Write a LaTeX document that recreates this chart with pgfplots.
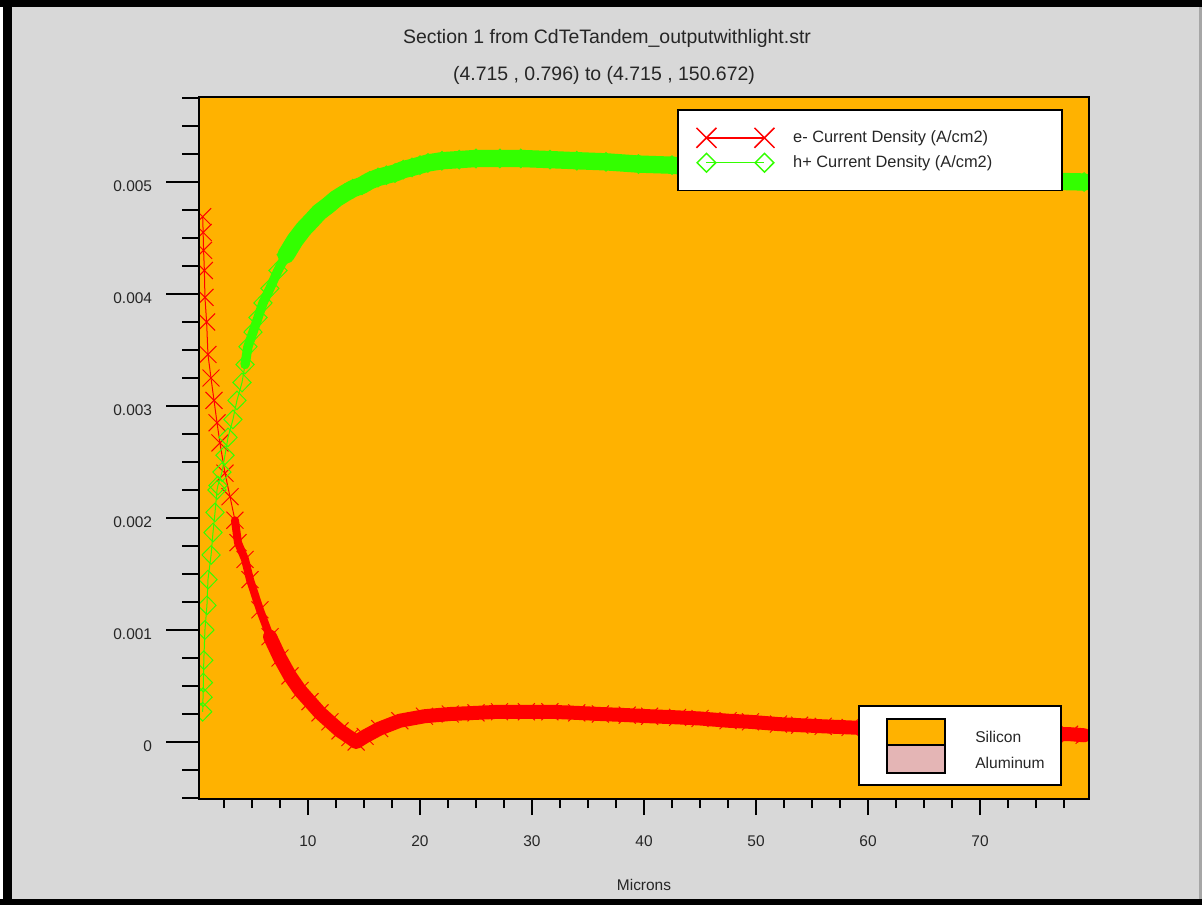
\documentclass[border=0pt]{standalone}
\usepackage{pgfplots}
\pgfplotsset{compat=1.18}
\usepackage{pgfplotstable}
\usepackage{fontspec}
\setmainfont{Liberation Sans}
\definecolor{bgray}{RGB}{216,216,216}
\definecolor{plotorange}{RGB}{255,178,0}
\definecolor{hgreen}{RGB}{51,255,0}
\definecolor{ered}{RGB}{255,0,0}
\definecolor{alpink}{RGB}{228,181,181}

\pgfplotstableread{
x y
0.60 0.00469
0.64 0.00455
0.68 0.00439
0.75 0.00421
0.80 0.00397
0.95 0.00375
1.07 0.00346
1.34 0.00325
1.61 0.00305
1.88 0.00285
2.14 0.00267
2.59 0.00240
3.04 0.00219
3.48 0.00198
3.75 0.00178
4.38 0.00163
4.82 0.00145
5.71 0.00118
6.61 0.00094
7.50 0.00075
8.39 0.00059
9.29 0.00046
10.18 0.00036
11.07 0.00026
11.96 0.00018
12.86 0.00010
13.75 0.00004
14.30 0.00000
15.10 0.00005
16.40 0.00012
18.20 0.00019
20.40 0.00023
22.70 0.00025
25.00 0.00026
27.10 0.00027
29.50 0.00027
31.60 0.00027
34.00 0.00026
36.10 0.00025
38.50 0.00024
40.50 0.00023
43.00 0.00022
45.00 0.00021
47.50 0.00019
49.50 0.00018
52.00 0.00016
53.90 0.00015
56.00 0.00014
58.40 0.00013
60.50 0.00012
62.90 0.00012
65.00 0.00011
67.30 0.00010
69.50 0.00009
71.80 0.00009
74.00 0.00008
76.25 0.00007
78.00 0.00007
79.30 0.00006
}\redtab

\pgfplotstableread{
x y
0.60 0.00027
0.63 0.00040
0.66 0.00053
0.70 0.00073
0.80 0.00100
0.98 0.00122
1.07 0.00145
1.35 0.00167
1.52 0.00187
1.70 0.00205
1.88 0.00225
1.96 0.00229
2.32 0.00241
2.59 0.00256
2.86 0.00272
3.30 0.00288
3.66 0.00305
4.11 0.00321
4.38 0.00337
4.64 0.00353
5.09 0.00366
5.54 0.00379
5.98 0.00392
6.60 0.00405
7.32 0.00421
8.05 0.00435
8.84 0.00448
9.60 0.00458
10.36 0.00466
11.00 0.00473
11.79 0.00479
12.50 0.00485
13.30 0.00490
14.00 0.00494
14.82 0.00497
15.50 0.00501
16.25 0.00504
17.00 0.00506
17.77 0.00508
18.50 0.00511
19.29 0.00513
20.00 0.00515
20.71 0.00517
21.96 0.00519
23.50 0.00520
25.00 0.00521
27.14 0.00521
29.00 0.00521
31.61 0.00520
34.00 0.00519
36.61 0.00518
39.50 0.00516
42.50 0.00515
45.00 0.00513
50.00 0.00510
55.00 0.00508
60.00 0.00506
65.00 0.00504
70.00 0.00502
75.00 0.00501
79.30 0.00500
}\greentab

\begin{document}
\begin{tikzpicture}
\path[use as bounding box] (0,0) rectangle (901.5pt,-678.75pt);
\begin{scope}[x=0.75pt,y=-0.75pt]
\fill[bgray] (0,0) rectangle (1202,905);
\fill[black] (0,0) rectangle (1202,7);
\fill[white] (0,7) rectangle (3,905);
\fill[black] (3,0) rectangle (12,905);
\fill[black] (0,899) rectangle (1202,905);
\fill[black!35] (1199,7) rectangle (1202,899);
\coordinate (ll) at (199,799);
\node[font=\fontsize{14.6}{17}\selectfont, text=black!85] at (607,38) {Section 1 from CdTeTandem\_outputwithlight.str};
\node[font=\fontsize{14.6}{17}\selectfont, text=black!85] at (604,75) {(4.715 , 0.796) to (4.715 , 150.672)};
\end{scope}

\begin{axis}[
  at={(ll)}, anchor=south west,
  scale only axis, width=667.5pt, height=526.5pt,
  xmin=0.27, xmax=79.73, ymin=-0.000509, ymax=0.005759,
  axis background/.style={fill=plotorange},
  axis line style={black, line width=1.2pt},
  axis on top,
  clip marker paths=true,
  xtick=\empty,
  ytick={0,0.001,0.002,0.003,0.004,0.005},
  yticklabels={0,0.001,0.002,0.003,0.004,0.005},
  minor ytick={-0.0005,-0.00025,0.00025,0.0005,0.00075,0.00125,0.0015,0.00175,0.00225,0.0025,0.00275,0.00325,0.0035,0.00375,0.00425,0.0045,0.00475,0.00525,0.0055,0.00575},
  ytick pos=left, tick align=outside,
  major tick length=24.5pt, minor tick length=12.75pt,
  major tick style={line width=2.2pt, black},
  minor tick style={line width=1.4pt, black},
  yticklabel style={font=\fontsize{11.6}{13}\selectfont, text=black!85, inner sep=0pt, anchor=east, yshift=-3pt},
  yticklabel shift=10.5pt,
  scaled y ticks=false,
  legend style={at={(axis description cs:0.5371,0.9829)}, anchor=north west,
    draw=black, line width=1.2pt, fill=white,
    inner xsep=14pt, inner ysep=13.5pt, row sep=4pt,
    font=\fontsize{12.3}{14}\selectfont, text=black!85,
    /tikz/every odd column/.append style={column sep=12pt}},
  legend cell align=left,
  legend image code/.code={\draw[#1, line width=1.1pt] plot coordinates {(0pt,0pt) (43.5pt,0pt)};},
]
\addplot[ered, line width=6pt, line join=round, line cap=round, forget plot, restrict x to domain=3.4:80] table {\redtab};
\addplot[ered, line width=10.5pt, line join=round, line cap=round, forget plot, restrict x to domain=6.5:80] table {\redtab};
\addplot[hgreen, line width=7pt, line join=round, line cap=round, forget plot, restrict x to domain=4.3:80] table {\greentab};
\addplot[hgreen, line width=13pt, line join=round, line cap=round, forget plot, restrict x to domain=8:80] table {\greentab};
\addplot[ered, line width=0.75pt, mark=x, mark size=9pt, legend image post style={mark size=10.6pt, draw=ered}] table {\redtab};
\addlegendentry{\makebox[185.5pt][l]{e- Current Density (A/cm2)}}
\addplot[hgreen, line width=0.75pt, mark=diamond, mark size=7pt, mark options={xscale=1.3}, legend image post style={mark size=7pt, draw=hgreen, mark options={xscale=1.33}}] table {\greentab};
\addlegendentry{\makebox[185.5pt][l]{h+ Current Density (A/cm2)}}
\end{axis}

\begin{axis}[
  at={(ll)}, anchor=south west,
  scale only axis, width=667.5pt, height=526.5pt,
  xmin=0.27, xmax=79.73, ymin=-0.000509, ymax=0.005759,
  hide y axis,
  axis line style={black, line width=1.2pt},
  xtick={10,20,30,40,50,60,70},
  xticklabels={10,20,30,40,50,60,70},
  minor xtick={2.5,5,7.5,12.5,15,17.5,22.5,25,27.5,32.5,35,37.5,42.5,45,47.5,52.5,55,57.5,62.5,65,67.5,72.5,75,77.5},
  xtick pos=bottom, tick align=outside,
  major tick length=12pt, minor tick length=6.75pt,
  major tick style={line width=2.2pt, black},
  minor tick style={line width=1.4pt, black},
  xticklabel style={font=\fontsize{11.6}{13}\selectfont, text=black!85, inner sep=0pt, anchor=north},
  xticklabel shift=15pt,
  scaled x ticks=false,
  xlabel={Microns},
  xlabel style={at={(axis description cs:0.5,-0.1225)}, anchor=center, font=\fontsize{11.6}{13}\selectfont, text=black!85},
]
\end{axis}

\begin{scope}[x=0.75pt,y=-0.75pt]
\draw[black, line width=1.2pt, fill=white] (859,706) rectangle (1061,785);
\draw[black, line width=1.2pt, fill=plotorange] (887,719) rectangle (945,745);
\draw[black, line width=1.2pt, fill=alpink] (887,745) rectangle (945,773);
\draw[black, line width=2.2pt] (887,745) -- (945,745);
\node[anchor=west, inner sep=0pt, font=\fontsize{11.7}{13}\selectfont, text=black!85] at (975,737) {Silicon};
\node[anchor=west, inner sep=0pt, font=\fontsize{11.7}{13}\selectfont, text=black!85] at (975,763) {Aluminum};
\end{scope}
\end{tikzpicture}
\end{document}
